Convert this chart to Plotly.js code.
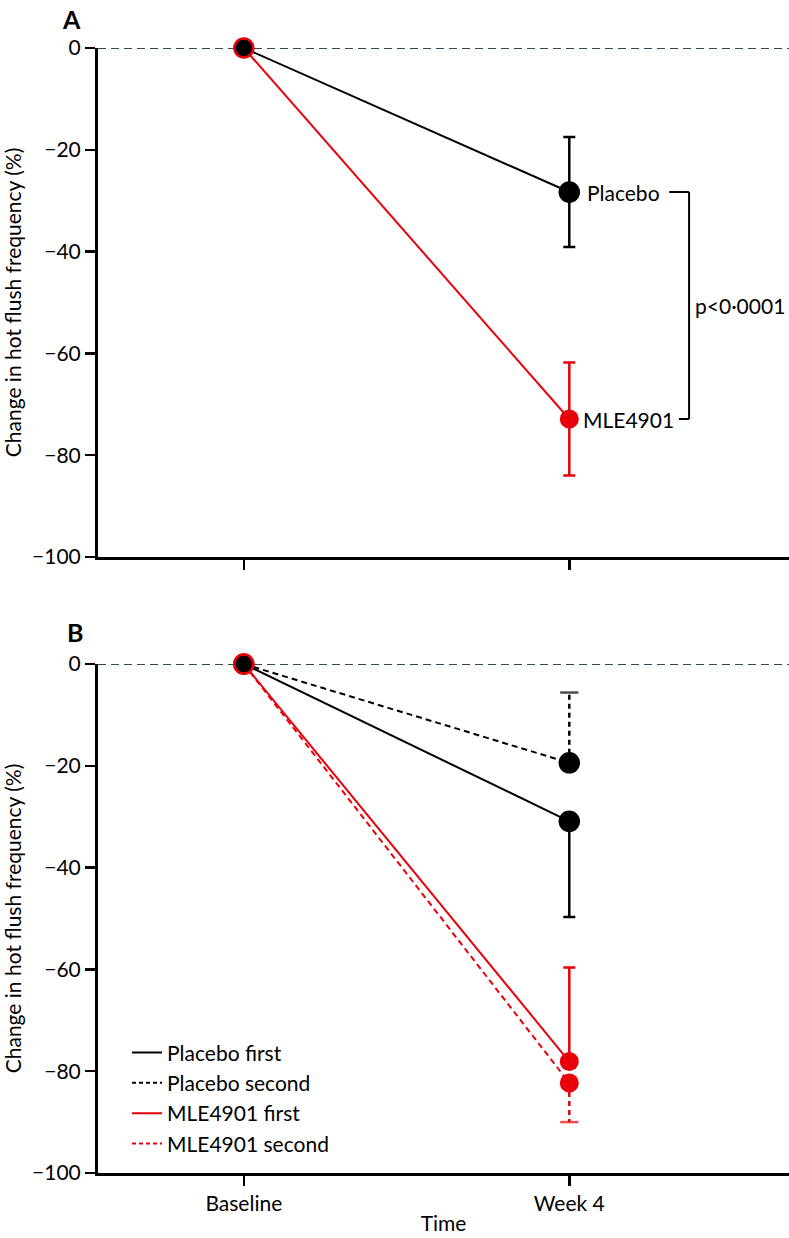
<!DOCTYPE html>
<html>
<head>
<meta charset="utf-8">
<script src="https://cdn.plot.ly/plotly-3.0.1.min.js"></script>
<style>html,body{margin:0;padding:0;background:#fff;}#chart{width:789px;height:1238px;}</style>
</head>
<body>
<div id="chart"></div>
<script>
// ---- data ----
const timeLabels = ['Baseline', 'Week 4'];
const timeX = [0, 1];
const yTicks = [0, -20, -40, -60, -80, -100];

// Panel A
const placeboA = [0, -28.3];
const placeboAErr = [0, 10.8];
const mleA = [0, -72.9];
const mleAErr = [0, 11.1];
const pValueText = 'p<0·0001';

// Panel B (one-sided error bars)
const placeboFirst = [0, -30.9];
const placeboFirstErrDown = [0, 18.8];
const placeboSecond = [0, -19.4];
const placeboSecondErrUp = [0, 13.8];
const mleFirst = [0, -78.1];
const mleFirstErrUp = [0, 18.5];
const mleSecond = [0, -82.3];
const mleSecondErrDown = [0, 7.7];

const legendNames = ['Placebo first', 'Placebo second', 'MLE4901 first', 'MLE4901 second'];

// ---- styles ----
const RED = '#e8000a';
const BLACK = '#000000';
const FONT = 'Lato, "Open Sans", sans-serif';
const FS = 21;
const MS = 19;

function series(x, y, color, dash, xa, ya, baseOutline, err) {
  const t = {
    x: x, y: y, xaxis: xa, yaxis: ya, type: 'scatter', mode: 'lines+markers',
    line: {color: color, width: 2, dash: dash || 'solid'},
    marker: {color: color, size: MS, line: {color: baseOutline ? [RED, color] : color, width: baseOutline ? 2.5 : 0}},
    cliponaxis: false, showlegend: false, hoverinfo: 'skip'
  };
  if (err) t.error_y = Object.assign({type: 'data', color: color, thickness: 2.5, width: 6}, err);
  return t;
}
function dashedErr(x, y, err, sign, color, xa, ya) {
  return {
    x: [x[1], x[1]], y: [y[1], y[1] + sign * err[1]], xaxis: xa, yaxis: ya,
    type: 'scatter', mode: 'lines+markers',
    line: {color: color, width: 2.5, dash: '5px,4px'},
    marker: {symbol: 'line-ew', size: [0, 13], color: color, line: {color: color, width: 2.5}},
    cliponaxis: false, showlegend: false, hoverinfo: 'skip'
  };
}
function legendTrace(name, color, dash, grp) {
  return {x: [null], y: [null], xaxis: 'x2', yaxis: 'y2', type: 'scatter', mode: 'lines',
    name: name, legendgroup: grp, line: {color: color, width: 2, dash: dash}};
}

const traces = [
  // Panel A
  series(timeX, mleA, RED, 'solid', 'x', 'y', false, {array: mleAErr}),
  series(timeX, placeboA, BLACK, 'solid', 'x', 'y', true, {array: placeboAErr}),
  // Panel B
  dashedErr(timeX, mleSecond, mleSecondErrDown, -1, RED, 'x2', 'y2'),
  dashedErr(timeX, placeboSecond, placeboSecondErrUp, 1, BLACK, 'x2', 'y2'),
  series(timeX, mleFirst, RED, 'solid', 'x2', 'y2', false, {symmetric: false, array: mleFirstErrUp, arrayminus: [0, 0]}),
  series(timeX, mleSecond, RED, '6px,4px', 'x2', 'y2', false),
  series(timeX, placeboFirst, BLACK, 'solid', 'x2', 'y2', true, {symmetric: false, array: [0, 0], arrayminus: placeboFirstErrDown}),
  series(timeX, placeboSecond, BLACK, '6px,4px', 'x2', 'y2', true),
  legendTrace(legendNames[0], BLACK, 'solid', 'g1'),
  legendTrace(legendNames[1], BLACK, '4px,3px', 'g2'),
  legendTrace(legendNames[2], RED, 'solid', 'g3'),
  legendTrace(legendNames[3], RED, '4px,3px', 'g4')
];

const xRange = [-0.448, 1.675];
function xax(showLabels, anchor) {
  const a = {
    range: xRange, anchor: anchor, tickmode: 'array', tickvals: timeX, ticktext: timeLabels,
    showticklabels: showLabels, ticks: 'outside', ticklen: 10, tickwidth: 2.5, tickcolor: BLACK,
    showline: true, linecolor: BLACK, linewidth: 3, showgrid: false, zeroline: false,
    tickfont: {size: FS, color: BLACK, family: FONT}, fixedrange: true
  };
  if (showLabels) a.title = {text: 'Time', font: {size: FS, color: BLACK, family: FONT}, standoff: 3};
  return a;
}
function yax(domain, anchor) {
  return {
    domain: domain, anchor: anchor, range: [-100, 0], tickmode: 'array', tickvals: yTicks,
    ticks: 'outside', ticklen: 10, tickwidth: 2.5, tickcolor: BLACK,
    showline: true, linecolor: BLACK, linewidth: 3, showgrid: false, zeroline: false,
    tickfont: {size: FS, color: BLACK, family: FONT},
    title: {text: 'Change in hot flush frequency (%)', font: {size: FS, color: BLACK, family: FONT}, standoff: 8},
    fixedrange: true
  };
}

const bx1 = 1.307, bx2 = 1.368, bx3 = 1.337;
const shapes = [
  {type: 'line', xref: 'x domain', yref: 'y', x0: 0, x1: 1, y0: 0, y1: 0, line: {color: '#2d4a5a', width: 2, dash: '8px,5px'}, layer: 'below'},
  {type: 'line', xref: 'x2 domain', yref: 'y2', x0: 0, x1: 1, y0: 0, y1: 0, line: {color: '#2d4a5a', width: 2, dash: '8px,5px'}, layer: 'below'},
  {type: 'line', xref: 'x', yref: 'y', x0: bx1, x1: bx2, y0: placeboA[1], y1: placeboA[1], line: {color: BLACK, width: 2}},
  {type: 'line', xref: 'x', yref: 'y', x0: bx2, x1: bx2, y0: placeboA[1], y1: mleA[1], line: {color: BLACK, width: 2}},
  {type: 'line', xref: 'x', yref: 'y', x0: bx3, x1: bx2, y0: mleA[1], y1: mleA[1], line: {color: BLACK, width: 2}}
];

const annotations = [
  {xref: 'paper', yref: 'paper', x: -0.038, y: 1.026, xanchor: 'center', yanchor: 'middle', text: '<b>A</b>', showarrow: false, font: {size: 25, family: FONT, color: BLACK}},
  {xref: 'paper', yref: 'paper', x: -0.034, y: 0.481, xanchor: 'center', yanchor: 'middle', text: '<b>B</b>', showarrow: false, font: {size: 25, family: FONT, color: BLACK}},
  {xref: 'x', yref: 'y', x: timeX[1], y: placeboA[1], text: 'Placebo', xanchor: 'left', xshift: 16, showarrow: false, font: {size: FS, family: FONT, color: BLACK}},
  {xref: 'x', yref: 'y', x: timeX[1], y: mleA[1], text: 'MLE4901', xanchor: 'left', xshift: 12, showarrow: false, font: {size: FS, family: FONT, color: BLACK}},
  {xref: 'x', yref: 'y', x: bx2, y: (placeboA[1] + mleA[1]) / 2, text: pValueText, xanchor: 'left', xshift: 4, showarrow: false, font: {size: FS, family: FONT, color: BLACK}}
];

const layout = {
  width: 789, height: 1238,
  margin: {l: 98, r: 0, t: 48, b: 65},
  paper_bgcolor: '#fff', plot_bgcolor: '#fff',
  font: {family: FONT, color: BLACK, size: FS},
  xaxis: xax(false, 'y'),
  yaxis: yax([0.5476, 1], 'x'),
  xaxis2: xax(true, 'y2'),
  yaxis2: yax([0, 0.4524], 'x2'),
  showlegend: true,
  legend: {x: 0.042, y: 0.125, xanchor: 'left', yanchor: 'top', bgcolor: 'rgba(0,0,0,0)',
    font: {size: FS, family: FONT, color: BLACK}, traceorder: 'grouped', tracegroupgap: 0, itemwidth: 30},
  shapes: shapes,
  annotations: annotations
};

Plotly.newPlot('chart', traces, layout, {staticPlot: true, displayModeBar: false});
</script>
</body>
</html>
